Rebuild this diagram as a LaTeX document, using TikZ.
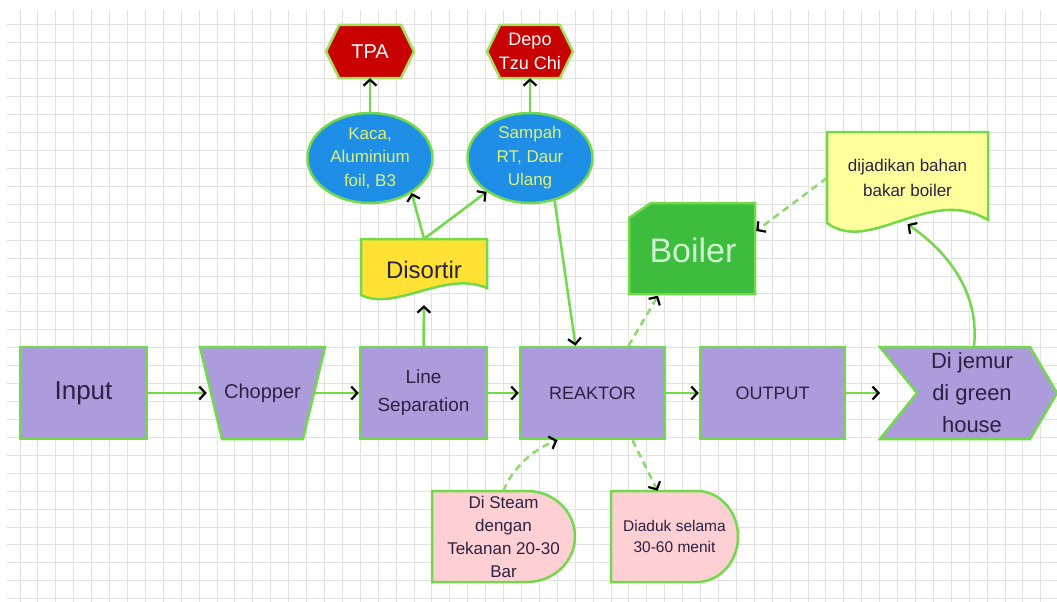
\documentclass[tikz,border=0pt]{standalone}
\usepackage{fontspec}
\setmainfont{Liberation Sans}
\usetikzlibrary{arrows.meta,shapes.geometric}

\definecolor{gridgray}{HTML}{E2E2E2}
\definecolor{lime}{HTML}{72D94A}
\definecolor{lav}{HTML}{AD9CDB}
\definecolor{ink}{HTML}{2A2243}
\definecolor{skyblue}{HTML}{1E8EE6}
\definecolor{paletext}{HTML}{DDF27A}
\definecolor{hexred}{HTML}{C90000}
\definecolor{hexedge}{HTML}{A4E05C}
\definecolor{sortyellow}{HTML}{FFE234}
\definecolor{boilgreen}{HTML}{3DBC3D}
\definecolor{boiltext}{HTML}{CFF2CF}
\definecolor{noteyellow}{HTML}{FFFF9C}
\definecolor{softpink}{HTML}{FFD0D3}
\definecolor{dashgreen}{HTML}{8CD96C}

\tikzset{
  fs/.style 2 args={font=\fontsize{#1}{#2}\selectfont},
  gridline/.style={gridgray, line width=1pt},
  outline/.style={draw=lime, line width=2.5pt, line join=miter},
  proc/.style={rectangle, fill=lav, outline, minimum height=92pt,
               text=ink, align=center, inner sep=0pt},
  ghost/.style={rectangle, inner sep=0pt, align=center},
  barb/.style={-{Straight Barb[length=6pt,width=13pt,color=black,line width=2.2pt]}},
  flow/.style={lime, line width=2.5pt, barb},
  aux/.style={dashgreen, line width=2.5pt, dash pattern=on 7pt off 5pt, barb},
  bubble/.style={ellipse, fill=skyblue, outline, minimum width=125pt,
                 minimum height=90pt, inner sep=0pt},
  bubbletext/.style={ghost, text=paletext, fs={17}{23.5}},
  hexbox/.style={fill=hexred, draw=hexedge, line width=2.5pt, line join=miter},
}

\begin{document}
\begin{tikzpicture}[x=1pt, y=-1pt]
\useasboundingbox (0,0) rectangle (1057,602);
\fill[white] (0,0) rectangle (1057,602);

% background grid
\foreach \i in {0,...,58}
  \draw[gridline] (20+17.91*\i,10) -- (20+17.91*\i,602);
\foreach \j in {0,...,32}
  \draw[gridline] (7,25+17.93*\j) -- (1057,25+17.93*\j);

% main process line
\node[proc, minimum width=127pt, fs={26}{30}] (input) at (83.5,393) {Input};
\path[fill=lav, outline] (200,347) -- (325,347) -- (303,439) -- (222,439) -- cycle;
\node[ghost, minimum width=125pt, minimum height=92pt, text=ink, fs={20}{24}]
  (chop) at (262.5,393) {Chopper};
\node[proc, minimum width=127pt, fs={19}{28}] (linesep) at (423.5,393) {Line\\Separation};
\node[proc, minimum width=145pt, fs={18}{22}] (reak) at (592.5,393) {REAKTOR};
\node[proc, minimum width=145pt, fs={18}{22}] (output) at (772.5,393) {OUTPUT};

% chevron step
\path[fill=lav, outline] (880,347) -- (1030,347) -- (1057,393) -- (1030,439)
  -- (880,439) -- (917,393) -- cycle;
\node[ghost, minimum width=170pt, minimum height=92pt, text=ink, fs={22}{32}]
  (jemur) at (972,393) {Di jemur\\di green\\house};

% sorting document
\path[fill=sortyellow, outline] (361,239) -- (487,239) -- (487,288)
  .. controls (445,270) and (395,312) .. (361,295) -- cycle;
\node[ghost, minimum width=126pt, minimum height=62pt, text=ink, fs={24}{28}]
  (sort) at (424,270) {Disortir};

% sorted fractions
\node[bubble] (kaca) at (370,158) {};
\node[bubbletext] (kacatext) at (kaca) {Kaca,\\Aluminium\\foil, B3};
\node[bubble] (sampah) at (530,158) {};
\node[bubbletext] (sampahtext) at (sampah) {Sampah\\RT, Daur\\Ulang};

% destinations
\path[hexbox] (326,51.5) -- (339,25) -- (401,25) -- (414,51.5) -- (401,78)
  -- (339,78) -- cycle;
\node[ghost, minimum width=88pt, minimum height=53pt, text=white, fs={20}{24}]
  (tpa) at (370,51.5) {TPA};
\path[hexbox] (487,51.5) -- (500,25) -- (560,25) -- (573,51.5) -- (560,78)
  -- (500,78) -- cycle;
\node[ghost, minimum width=86pt, minimum height=53pt, text=white, fs={18}{24}]
  (depo) at (530,51.5) {Depo\\Tzu Chi};

% boiler card
\path[fill=boilgreen, outline] (629,218) -- (651,203) -- (755,203) -- (755,294)
  -- (629,294) -- cycle;
\node[ghost, minimum width=126pt, minimum height=91pt, text=boiltext, fs={34}{38}]
  (boiler) at (693,250) {Boiler};

% fuel note
\path[fill=noteyellow, outline] (827,132) -- (988,132) -- (988,220)
  .. controls (930,185) and (870,255) .. (827,223) -- cycle;
\node[ghost, minimum width=161pt, minimum height=92pt, text=ink, fs={17}{25}]
  (note) at (907.5,178) {dijadikan bahan\\bakar boiler};

% reactor conditions
\path[fill=softpink, outline] (432,491) -- (527,491)
  arc[start angle=90, end angle=-90, x radius=48pt, y radius=45.5pt]
  -- (432,582) -- cycle;
\node[ghost, minimum width=143pt, minimum height=91pt, text=ink, fs={17}{23}]
  (steam) at (503.5,536.5) {Di Steam\\dengan\\Tekanan 20-30\\Bar};
\path[fill=softpink, outline] (611,491) -- (697,491)
  arc[start angle=90, end angle=-90, x radius=41pt, y radius=45.5pt]
  -- (611,582) -- cycle;
\node[ghost, minimum width=127pt, minimum height=91pt, text=ink, fs={15.5}{21}]
  (stir) at (674.5,536.5) {Diaduk selama\\30-60 menit};

% connectors
\draw[flow] (input) -- ([xshift=7pt]chop.west);
\draw[flow] ([xshift=-11pt]chop.east) -- (linesep);
\draw[flow] (linesep) -- (reak);
\draw[flow] (reak) -- (output);
\draw[flow] (output) -- ([xshift=-92pt]jemur.center);
\draw[flow, shorten >=4pt] (linesep.north) -- (sort.south);
\draw[flow] (sort.north) -- (kaca.-40);
\draw[flow] (sort.north) -- (sampah.-142);
\draw[flow] (kaca) -- (tpa);
\draw[flow] (sampah) -- (depo);
\draw[flow] (sampah.-60) -- ([xshift=-17pt]reak.north);
\draw[aux] ([xshift=36pt]reak.north) -- ([xshift=-35pt]boiler.south);
\draw[aux] (note.west) -- ([yshift=19pt]boiler.east);
\draw[flow] ([xshift=2pt]jemur.north) .. controls (980,290) and (945,250) .. (note.south);
\draw[aux] (steam.north) .. controls (512,468) and (535,448) .. ([xshift=-35pt]reak.south);
\draw[aux] ([xshift=40pt]reak.south) -- ([xshift=-17pt]stir.north);
\end{tikzpicture}
\end{document}
